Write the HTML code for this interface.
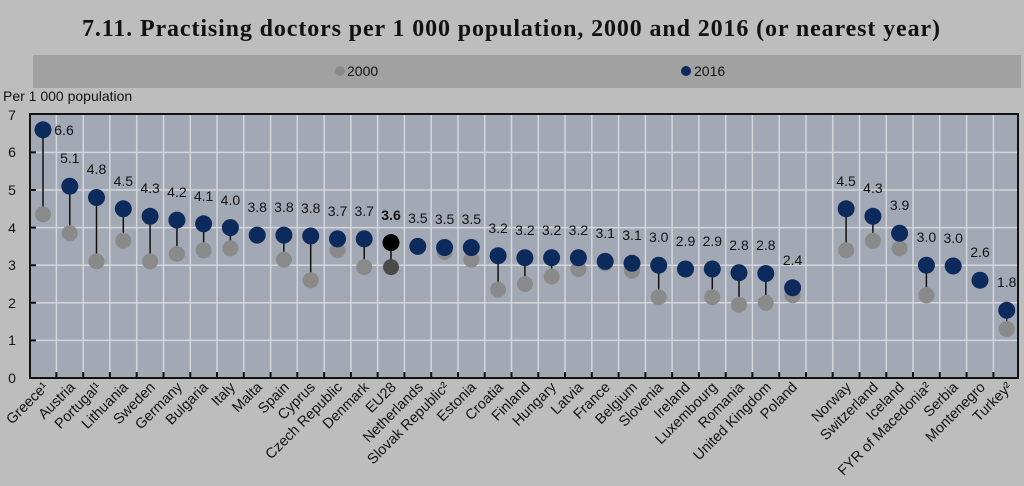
<!DOCTYPE html>
<html><head><meta charset="utf-8"><style>
body{margin:0;background:#bdbdbd;}
svg{display:block;font-family:"Liberation Sans",sans-serif;}
</style></head><body>
<svg width="1024" height="486" viewBox="0 0 1024 486" xmlns="http://www.w3.org/2000/svg">
<rect width="1024" height="486" fill="#bdbdbd"/>
<text x="82" y="36" textLength="858" lengthAdjust="spacing" font-family="Liberation Serif,serif" font-weight="bold" font-size="24" fill="#111">7.11.  Practising doctors per 1 000 population, 2000 and 2016 (or nearest year)</text>
<rect x="33" y="55" width="988" height="33" fill="#a1a1a1"/>
<circle cx="340" cy="71" r="5" fill="#8a8a8a"/><text x="347" y="76" font-size="14" fill="#111">2000</text>
<circle cx="686" cy="71" r="5" fill="#0c2a5c"/><text x="694" y="76" font-size="14" fill="#111">2016</text>
<text x="3" y="101" font-size="14" fill="#111">Per 1 000 population</text>
<rect x="30" y="114" width="988" height="264" fill="#a3a8b5"/>
<g stroke="#d4d6dc" stroke-width="1.5">
<line x1="30" x2="1018" y1="340.4" y2="340.4"/><line x1="30" x2="1018" y1="302.8" y2="302.8"/><line x1="30" x2="1018" y1="265.2" y2="265.2"/><line x1="30" x2="1018" y1="227.6" y2="227.6"/><line x1="30" x2="1018" y1="190" y2="190"/><line x1="30" x2="1018" y1="152.4" y2="152.4"/>
<path d="M56.4 114V378M83.2 114V378M109.9 114V378M136.7 114V378M163.5 114V378M190.3 114V378M217 114V378M243.8 114V378M270.6 114V378M297.3 114V378M324.1 114V378M350.9 114V378M377.6 114V378M404.4 114V378M431.2 114V378M458 114V378M484.7 114V378M511.5 114V378M538.3 114V378M565 114V378M591.8 114V378M618.6 114V378M645.4 114V378M672.1 114V378M698.9 114V378M725.7 114V378M752.4 114V378M779.2 114V378M806 114V378M832.7 114V378M859.5 114V378M886.3 114V378M913 114V378M939.8 114V378M966.6 114V378M993.4 114V378"/>
</g>
<rect x="30" y="114" width="988" height="264" fill="none" stroke="#111" stroke-width="2"/>
<path stroke="#111" stroke-width="2" d="M56.4 378v-6M83.2 378v-6M109.9 378v-6M136.7 378v-6M163.5 378v-6M190.3 378v-6M217 378v-6M243.8 378v-6M270.6 378v-6M297.3 378v-6M324.1 378v-6M350.9 378v-6M377.6 378v-6M404.4 378v-6M431.2 378v-6M458 378v-6M484.7 378v-6M511.5 378v-6M538.3 378v-6M565 378v-6M591.8 378v-6M618.6 378v-6M645.4 378v-6M672.1 378v-6M698.9 378v-6M725.7 378v-6M752.4 378v-6M779.2 378v-6M806 378v-6M832.7 378v-6M859.5 378v-6M886.3 378v-6M913 378v-6M939.8 378v-6M966.6 378v-6M993.4 378v-6M30 340.4h6M30 302.8h6M30 265.2h6M30 227.6h6M30 190h6M30 152.4h6"/>
<g font-size="14" fill="#111" text-anchor="middle">
<text x="12" y="383">0</text><text x="12" y="345">1</text><text x="12" y="308">2</text><text x="12" y="270">3</text><text x="12" y="233">4</text><text x="12" y="195">5</text><text x="12" y="157">6</text><text x="12" y="120">7</text>
</g>
<path stroke="#111" stroke-width="1.5" d="M43 130V214M69.8 186V233M96.5 197V261M123.3 209V241M150.1 216V261M176.9 220V254M203.6 224V250M230.4 228V248M283.9 235V260M310.7 235V280M337.5 239V250M364.2 239V267M391 243V267M444.6 248V252M471.3 248V260M498.1 256V290M524.9 258V284M551.6 258V277M578.4 258V269M632 263V271M658.7 265V297M712.3 269V297M739 273V305M765.8 273V303M792.6 288V295M846.1 209V250M872.9 216V241M899.6 233V248M926.4 265V295M1006.7 310V329"/>
<g fill="#8a8a8a">
<circle cx="43" cy="214.4" r="8"/><circle cx="69.8" cy="233.2" r="8"/><circle cx="96.5" cy="261.4" r="8"/><circle cx="123.3" cy="240.8" r="8"/><circle cx="150.1" cy="261.4" r="8"/><circle cx="176.9" cy="253.9" r="8"/><circle cx="203.6" cy="250.2" r="8"/><circle cx="230.4" cy="248.3" r="8"/><circle cx="283.9" cy="259.6" r="8"/><circle cx="310.7" cy="280.2" r="8"/><circle cx="337.5" cy="250.2" r="8"/><circle cx="364.2" cy="267.1" r="8"/><circle cx="444.6" cy="252" r="8"/><circle cx="471.3" cy="259.6" r="8"/><circle cx="498.1" cy="289.6" r="8"/><circle cx="524.9" cy="284" r="8"/><circle cx="551.6" cy="276.5" r="8"/><circle cx="578.4" cy="269" r="8"/><circle cx="605.2" cy="263.3" r="8"/><circle cx="632" cy="270.8" r="8"/><circle cx="658.7" cy="297.2" r="8"/><circle cx="712.3" cy="297.2" r="8"/><circle cx="739" cy="304.7" r="8"/><circle cx="765.8" cy="302.8" r="8"/><circle cx="792.6" cy="295.3" r="8"/><circle cx="846.1" cy="250.2" r="8"/><circle cx="872.9" cy="240.8" r="8"/><circle cx="899.6" cy="248.3" r="8"/><circle cx="926.4" cy="295.3" r="8"/><circle cx="1006.7" cy="329" r="8"/>
</g>
<circle cx="391" cy="267.1" r="8" fill="#4a4a4a"/>
<g fill="#0c2a5c">
<circle cx="43" cy="129.8" r="8.5"/><circle cx="69.8" cy="186.2" r="8.5"/><circle cx="96.5" cy="197.5" r="8.5"/><circle cx="123.3" cy="208.8" r="8.5"/><circle cx="150.1" cy="216.3" r="8.5"/><circle cx="176.9" cy="220.1" r="8.5"/><circle cx="203.6" cy="223.8" r="8.5"/><circle cx="230.4" cy="227.6" r="8.5"/><circle cx="257.2" cy="235.1" r="8.5"/><circle cx="283.9" cy="235.1" r="8.5"/><circle cx="310.7" cy="236" r="8.5"/><circle cx="337.5" cy="238.9" r="8.5"/><circle cx="364.2" cy="238.9" r="8.5"/><circle cx="417.8" cy="246.4" r="8.5"/><circle cx="444.6" cy="247.5" r="8.5"/><circle cx="471.3" cy="247.5" r="8.5"/><circle cx="498.1" cy="255.8" r="8.5"/><circle cx="524.9" cy="257.7" r="8.5"/><circle cx="551.6" cy="257.7" r="8.5"/><circle cx="578.4" cy="257.7" r="8.5"/><circle cx="605.2" cy="261.4" r="8.5"/><circle cx="632" cy="263.3" r="8.5"/><circle cx="658.7" cy="265.2" r="8.5"/><circle cx="685.5" cy="269" r="8.5"/><circle cx="712.3" cy="269" r="8.5"/><circle cx="739" cy="272.7" r="8.5"/><circle cx="765.8" cy="273.5" r="8.5"/><circle cx="792.6" cy="287.8" r="8.5"/><circle cx="846.1" cy="208.8" r="8.5"/><circle cx="872.9" cy="216.3" r="8.5"/><circle cx="899.6" cy="233.2" r="8.5"/><circle cx="926.4" cy="265.2" r="8.5"/><circle cx="953.2" cy="266" r="8.5"/><circle cx="980" cy="280.2" r="8.5"/><circle cx="1006.7" cy="310.3" r="8.5"/>
</g>
<circle cx="391" cy="242.6" r="8.5" fill="#000"/>
<g font-size="14" fill="#111" text-anchor="middle">
<text x="64" y="135">6.6</text>
<text x="69.8" y="163">5.1</text><text x="96.5" y="174">4.8</text><text x="123.3" y="186">4.5</text><text x="150.1" y="193">4.3</text><text x="176.9" y="197">4.2</text><text x="203.6" y="201">4.1</text><text x="230.4" y="205">4.0</text><text x="257.2" y="212">3.8</text><text x="283.9" y="212">3.8</text><text x="310.7" y="213">3.8</text><text x="337.5" y="216">3.7</text><text x="364.2" y="216">3.7</text><text x="391" y="220" font-weight="bold">3.6</text><text x="417.8" y="223">3.5</text><text x="444.6" y="224">3.5</text><text x="471.3" y="224">3.5</text><text x="498.1" y="233">3.2</text><text x="524.9" y="235">3.2</text><text x="551.6" y="235">3.2</text><text x="578.4" y="235">3.2</text><text x="605.2" y="238">3.1</text><text x="632" y="240">3.1</text><text x="658.7" y="242">3.0</text><text x="685.5" y="246">2.9</text><text x="712.3" y="246">2.9</text><text x="739" y="250">2.8</text><text x="765.8" y="250">2.8</text><text x="792.6" y="265">2.4</text><text x="846.1" y="186">4.5</text><text x="872.9" y="193">4.3</text><text x="899.6" y="210">3.9</text><text x="926.4" y="242">3.0</text><text x="953.2" y="243">3.0</text><text x="980" y="257">2.6</text><text x="1006.7" y="287">1.8</text>
</g>
<g font-size="14.5" fill="#111" text-anchor="end">
<text transform="translate(49,388) rotate(-45)">Greece¹</text>
<text transform="translate(76,388) rotate(-45)">Austria</text>
<text transform="translate(102,388) rotate(-45)">Portugal¹</text>
<text transform="translate(129,388) rotate(-45)">Lithuania</text>
<text transform="translate(156,388) rotate(-45)">Sweden</text>
<text transform="translate(183,388) rotate(-45)">Germany</text>
<text transform="translate(209,388) rotate(-45)">Bulgaria</text>
<text transform="translate(236,388) rotate(-45)">Italy</text>
<text transform="translate(263,388) rotate(-45)">Malta</text>
<text transform="translate(290,388) rotate(-45)">Spain</text>
<text transform="translate(316,388) rotate(-45)">Cyprus</text>
<text transform="translate(343,388) rotate(-45)">Czech Republic</text>
<text transform="translate(370,388) rotate(-45)">Denmark</text>
<text transform="translate(397,388) rotate(-45)">EU28</text>
<text transform="translate(424,388) rotate(-45)">Netherlands</text>
<text transform="translate(450,388) rotate(-45)">Slovak Republic²</text>
<text transform="translate(477,388) rotate(-45)">Estonia</text>
<text transform="translate(504,388) rotate(-45)">Croatia</text>
<text transform="translate(531,388) rotate(-45)">Finland</text>
<text transform="translate(557,388) rotate(-45)">Hungary</text>
<text transform="translate(584,388) rotate(-45)">Latvia</text>
<text transform="translate(611,388) rotate(-45)">France</text>
<text transform="translate(638,388) rotate(-45)">Belgium</text>
<text transform="translate(664,388) rotate(-45)">Slovenia</text>
<text transform="translate(691,388) rotate(-45)">Ireland</text>
<text transform="translate(718,388) rotate(-45)">Luxembourg</text>
<text transform="translate(745,388) rotate(-45)">Romania</text>
<text transform="translate(772,388) rotate(-45)">United Kingdom</text>
<text transform="translate(798,388) rotate(-45)">Poland</text>
<text transform="translate(852,388) rotate(-45)">Norway</text>
<text transform="translate(879,388) rotate(-45)">Switzerland</text>
<text transform="translate(905,388) rotate(-45)">Iceland</text>
<text transform="translate(932,388) rotate(-45)">FYR of Macedonia²</text>
<text transform="translate(959,388) rotate(-45)">Serbia</text>
<text transform="translate(986,388) rotate(-45)">Montenegro</text>
<text transform="translate(1013,388) rotate(-45)">Turkey²</text>
</g>
</svg>
</body></html>
